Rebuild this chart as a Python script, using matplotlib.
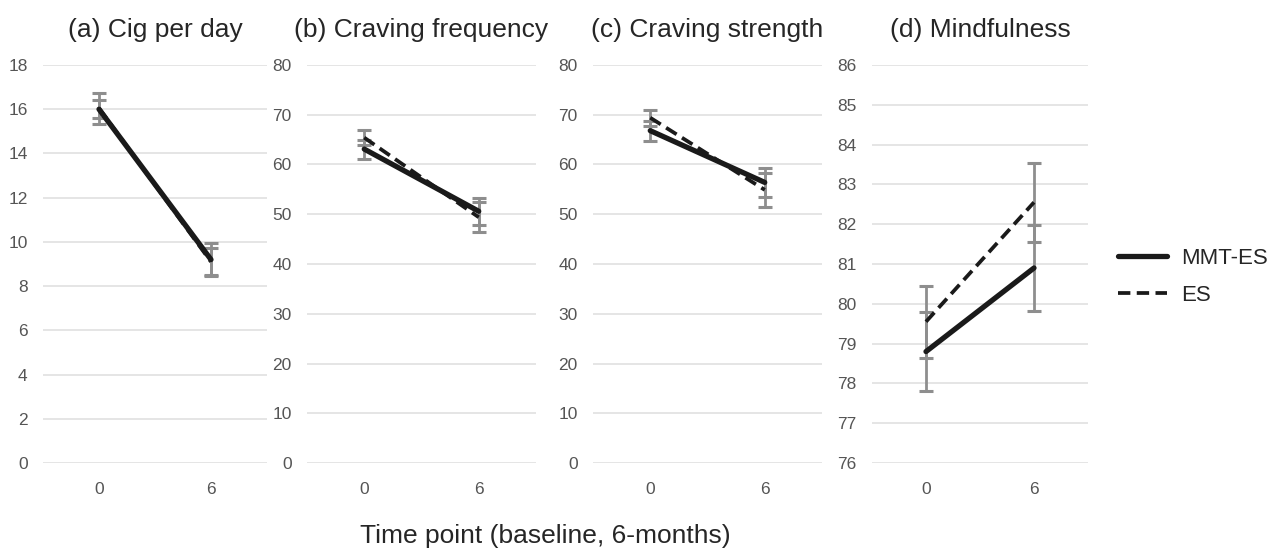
import numpy as np
import matplotlib.pyplot as plt

plt.rcParams['font.family'] = ['Liberation Sans', 'DejaVu Sans']

# time points
time_labels = ["0", "6"]

# (a) cigarettes per day
cig_mmt = [16.0, 9.2]
cig_mmt_err = [0.4, 0.75]
cig_es = [16.05, 9.1]
cig_es_err = [0.7, 0.62]

# (b) craving frequency
freq_mmt = [63.1, 50.6]
freq_mmt_err = [1.9, 2.7]
freq_es = [65.4, 49.4]
freq_es_err = [1.5, 3.0]

# (c) craving strength
str_mmt = [66.8, 56.4]
str_mmt_err = [2.0, 2.9]
str_es = [69.4, 54.9]
str_es_err = [1.6, 3.4]

# (d) mindfulness
mind_mmt = [78.8, 80.9]
mind_mmt_err = [1.0, 1.08]
mind_es = [79.55, 82.55]
mind_es_err = [0.9, 1.0]

titles = ["(a) Cig per day", "(b) Craving frequency", "(c) Craving strength", "(d) Mindfulness"]
ylims = [(0, 18), (0, 80), (0, 80), (76, 86)]
ysteps = [2, 10, 10, 1]

panels = [
    (cig_mmt, cig_mmt_err, cig_es, cig_es_err),
    (freq_mmt, freq_mmt_err, freq_es, freq_es_err),
    (str_mmt, str_mmt_err, str_es, str_es_err),
    (mind_mmt, mind_mmt_err, mind_es, mind_es_err),
]

W, H = 1280, 548
fig = plt.figure(figsize=(W / 100, H / 100), dpi=100)

# axes boxes in pixels: left, width
boxes = [(43, 224), (307, 229), (593, 229), (872, 216)]
top_px, bot_px = 65, 463

line_col = "#1a1a1a"
err_col = "#8e8e8e"
x = np.arange(len(time_labels))

for i, (l, w) in enumerate(boxes):
    ax = fig.add_axes([l / W, 1 - bot_px / H, w / W, (bot_px - top_px) / H])
    mmt, mmt_err, es, es_err = panels[i]
    ax.errorbar(x, mmt, yerr=mmt_err, fmt="none", ecolor=err_col, elinewidth=2,
                capsize=5, capthick=2.2, zorder=2)
    ax.errorbar(x, es, yerr=es_err, fmt="none", ecolor=err_col, elinewidth=2,
                capsize=5, capthick=2.2, zorder=2)
    ax.plot(x, mmt, color=line_col, lw=3.8, solid_capstyle="round", zorder=3, label="MMT-ES")
    ax.plot(x, es, color=line_col, lw=2.7, dashes=(3.3, 1.7), zorder=3, label="ES")

    lo, hi = ylims[i]
    ax.set_ylim(lo, hi)
    ax.set_yticks(np.arange(lo, hi + 0.01, ysteps[i]))
    ax.set_xlim(-0.5, 1.5)
    ax.set_xticks(x)
    ax.set_xticklabels(time_labels)
    ax.yaxis.grid(True, color="#dedede", lw=1.1)
    ax.set_axisbelow(True)
    for s in ax.spines.values():
        s.set_visible(False)
    ax.tick_params(axis="y", length=0, pad=11, labelsize=12.5, labelcolor="#555555")
    ax.tick_params(axis="x", length=0, pad=14, labelsize=12.5, labelcolor="#555555")
    ax.set_title(titles[i], fontsize=19, color="#262626", pad=20)
    ax.patch.set_alpha(0)
    if i == 3:
        handles, labels = ax.get_legend_handles_labels()

fig.legend(handles, labels, loc="center left", bbox_to_anchor=(1118 / W, 1 - 277 / H),
           frameon=False, fontsize=16, handlelength=2.2, handletextpad=0.65,
           labelspacing=0.7, borderpad=0, borderaxespad=0, labelcolor="#262626")

fig.text(545 / W, 1 - 536 / H, "Time point (baseline, 6-months)", ha="center", va="center",
         fontsize=19, color="#262626")

fig.savefig("out.png", dpi=100)
